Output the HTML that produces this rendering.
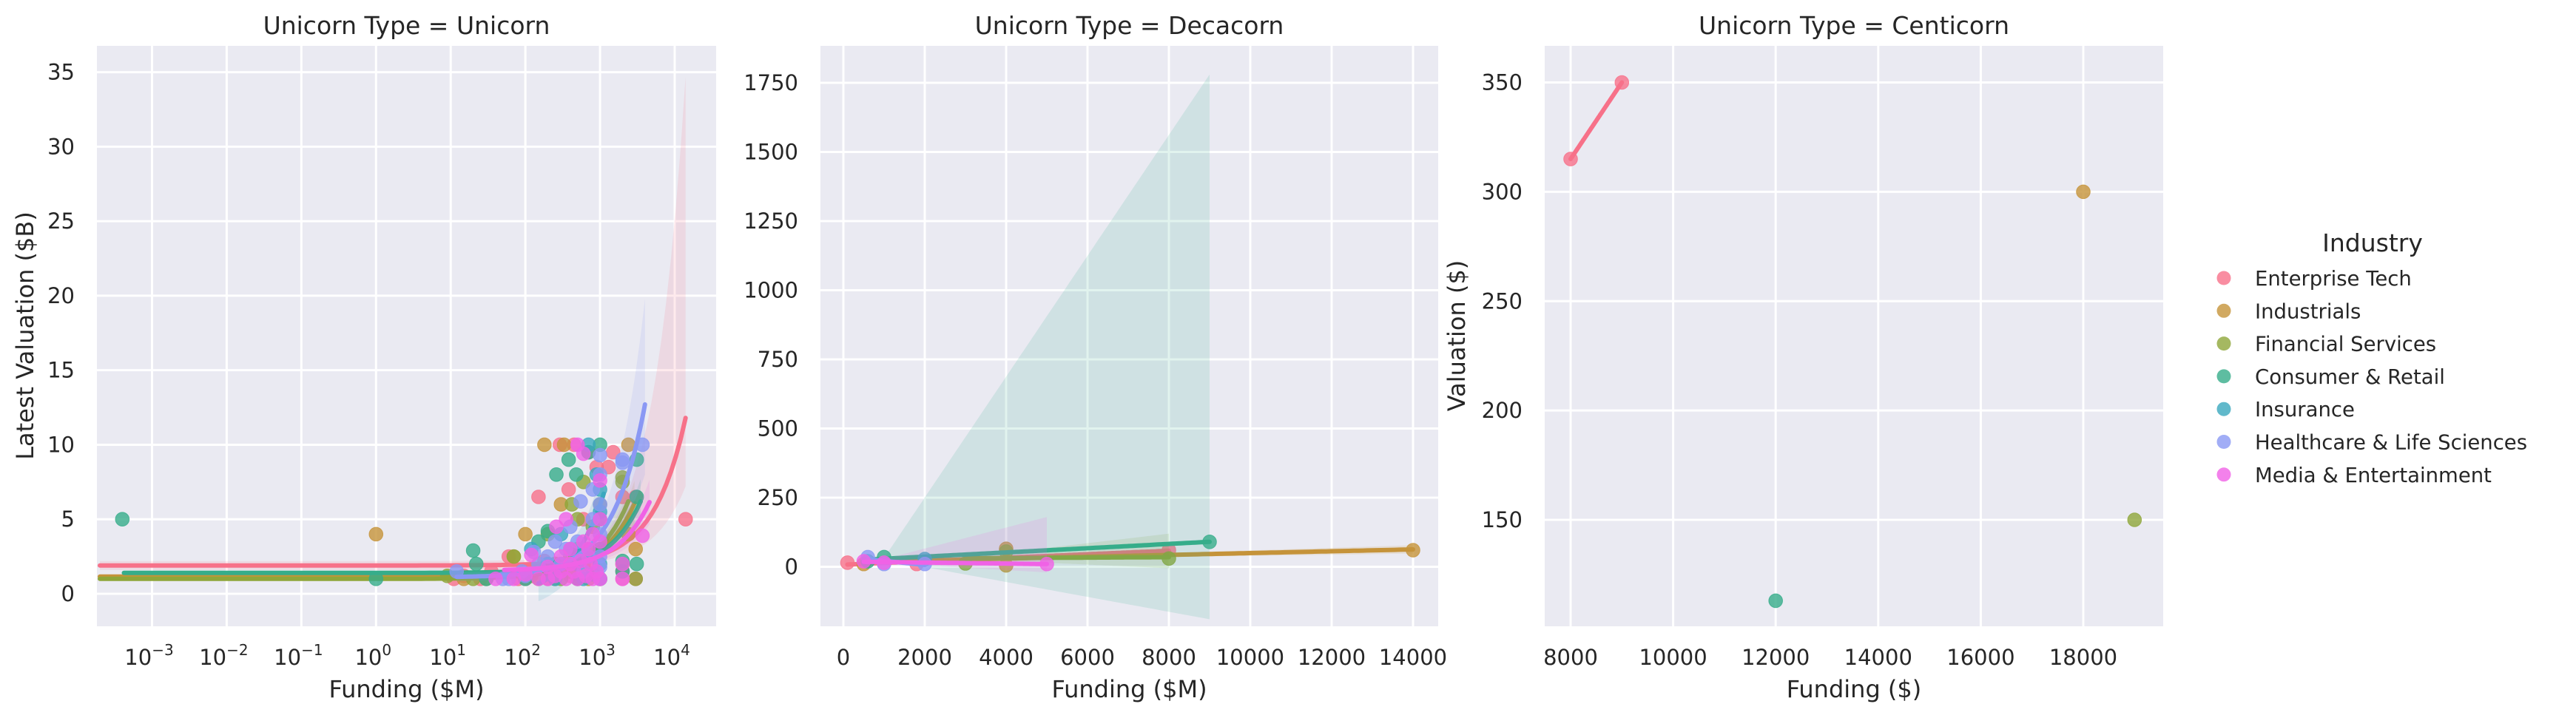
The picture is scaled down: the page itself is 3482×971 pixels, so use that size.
<!DOCTYPE html>
<html><head><meta charset="utf-8"><style>
html,body{margin:0;padding:0;background:#fff;}
svg{display:block;font-family:"DejaVu Sans","Liberation Sans",sans-serif;}
</style></head><body>
<svg id="chart" width="3482" height="971" viewBox="0 0 3482 971" xmlns="http://www.w3.org/2000/svg"></svg>
<script>
const industries = ["Enterprise Tech","Industrials","Financial Services","Consumer & Retail","Insurance","Healthcare & Life Sciences","Media & Entertainment"];
const colors = ["#f77189","#c5933a","#8fa63a","#36ad8a","#3aa8be","#8a98f4","#f062e6"];

// Panel 1 (Unicorn) points [funding $M, valuation $B]
const uniEnt = [[11,1],[15,1.2],[25,1],[35,1.5],[60,2.5],[80,1],[100,1],[150,6.5],[200,1],[290,10],[300,1.5],[380,7],[450,10],[500,1],[700,9.5],[900,8.5],[1000,1],[1000,3],[1500,9.5],[1300,8.5],[2000,1.5],[2000,6.5],[2000,1],[3000,6.5],[3000,1],[14000,5],[600,5],[800,2],[120,1.5],[250,2],[400,1.2],[650,1.5],[180,2.2]];
const uniInd = [[1,4],[15,1],[30,1],[100,4],[180,10],[330,10],[2400,10],[70,2.5],[300,6],[500,3],[700,1],[1000,1],[250,1],[400,1.5],[2000,2],[2400,4],[3000,3],[120,1.2],[200,1.5],[600,2]];
const uniFin = [[9,1.2],[20,1],[70,2.5],[200,4],[420,6],[600,7.5],[2000,7.8],[2000,7.5],[500,5],[800,4.5],[1000,6],[300,1],[150,1],[1000,1],[3000,1],[250,2],[400,2.5],[700,3]];
const uniCons = [[0.0004,5],[1,1],[20,2.9],[22,2],[30,1],[150,3.5],[200,4.2],[380,9],[260,8],[480,8],[700,9.5],[1000,10],[3100,9],[3100,6.5],[3100,2],[2000,2.2],[2000,1.5],[1000,5],[1000,3],[500,1],[300,2],[1000,1],[100,1],[220,1.5],[600,2.5],[800,1.3]];
const uniIns = [[120,3],[300,4],[400,3],[700,10],[1000,7],[1000,5.5],[1000,2],[600,1],[250,1],[900,8],[500,2],[200,2]];
const uniHc = [[12,1.5],[50,1],[130,2.8],[250,3.5],[400,4.5],[550,6.2],[1000,9.3],[2000,8.8],[3700,10],[1000,1.8],[1000,1],[1000,4],[1000,8],[700,2.5],[800,7],[300,2],[2000,9],[100,1.2],[150,2],[200,2.5],[350,3],[500,3.5],[600,1.5],[1000,2.5],[1000,6],[800,5],[60,1],[90,1.5]];
const uniMedia = [[40,1],[70,1],[120,2.6],[200,1],[260,4.5],[350,5],[500,10],[600,9.4],[1000,7.6],[1000,5],[3700,3.9],[2000,1],[2000,2],[700,3],[500,1],[300,1.5],[400,2],[800,1],[1000,1],[150,1],[100,1.3],[200,1.8],[250,1.2],[350,1],[450,1.5],[550,2.2],[650,1.2],[750,2],[900,1.5],[1000,3.5],[400,3],[600,3.5],[800,4],[300,2.5]];
// Panel 1 regression lines (valuation = a + b*funding)
const uniLineA = [1.9,1.15,1.0,1.4,-0.23,1.1,1.55];
const uniLineB = [0.000707,0.0017,0.00217,0.00137,0.0062,0.0029,0.001];
const uniLineMin = [0.0002,0.0002,0.0002,0.00042,150,12,52];
const uniLineMax = [14000,2900,2400,3500,1120,4000,4600];
const uniCiUp = [22.9,1.5,1.5,1.5,2,7.1,1.5];
const uniCiDown = [4.6,1.5,1.5,1.5,2,4.7,1.5];
const uniCiMin = [0.3,0.15,0.15,0.15,1.2,0.3,0.2];
const uniCiPinch = [600,600,600,600,600,600,600];

// Panel 2 (Decacorn) points [funding $M, valuation]
const decEnt = [[100,15],[1800,10],[8000,60]];
const decInd = [[500,10],[4000,5],[4000,65],[14000,60]];
const decFin = [[3000,12],[8000,30],[4000,55]];
const decCons = [[600,20],[1000,35],[9000,90]];
const decIns = [[2000,28]];
const decHc = [[600,35],[2000,10],[1000,10]];
const decMedia = [[500,20],[1000,15],[5000,10]];
const decCiUp = [0,15,85,1690,0,0,170];
const decCiDown = [0,15,40,280,0,0,30];
const decCiPinch = [1000,5000,3000,1000,1000,1000,800];

// Panel 3 (Centicorn) points [funding $, valuation $]
const cenEnt = [[8000,315],[9000,350]];
const cenInd = [[18000,300]];
const cenFin = [[19000,150]];
const cenCons = [[12000,113]];
const cenIns = [];
const cenHc = [];
const cenMedia = [];

const xTicks1 = [-3,-2,-1,0,1,2,3,4];
const yTicks1 = [0,5,10,15,20,25,30,35];
const xTicks2 = [0,2000,4000,6000,8000,10000,12000,14000];
const yTicks2 = [0,250,500,750,1000,1250,1500,1750];
const xTicks3 = [8000,10000,12000,14000,16000,18000];
const yTicks3 = [150,200,250,300,350];

const svg = document.getElementById('chart');
const NS = "http://www.w3.org/2000/svg";
function mk(tag, attrs, parent){const e=document.createElementNS(NS,tag);for(const k in attrs)e.setAttribute(k,attrs[k]);(parent||svg).appendChild(e);return e;}
function lin(d0,d1,r0,r1){return v=>r0+(v-d0)*(r1-r0)/(d1-d0);}

const TOP=62,BOT=847;
const TICK_FS=29, LABEL_FS=32, TITLE_FS=33;
const P1={l:131,r:968,title:"Unicorn Type = Unicorn",name:"unicorn"};
const P2={l:1109,r:1944,title:"Unicorn Type = Decacorn",name:"decacorn"};
const P3={l:2088,r:2924,title:"Unicorn Type = Centicorn",name:"centicorn"};
const x1l = lin(-3,4,205.5,912); const x1 = f=>x1l(Math.log10(f));
const y1 = lin(0,35,803,97.6);
const x2 = lin(0,14000,1140,1910);
const y2 = lin(0,1750,766.5,112);
const x3 = lin(8000,18000,2123,2816);
const y3 = lin(150,350,703,111.5);

function panelBg(P){
  const g=mk('g',{});
  
  
  const r=mk('rect',{x:P.l,y:TOP,width:P.r-P.l,height:BOT-TOP,fill:'#eaeaf2'},g);
  
  
  const t=mk('text',{x:(P.l+P.r)/2,y:46,'text-anchor':'middle','font-size':TITLE_FS,fill:'#262626'},g);
  t.textContent=P.title;
  
  
  P.g=g;
  const clip=mk('clipPath',{id:'clip-'+P.name});
  mk('rect',{x:P.l,y:TOP,width:P.r-P.l,height:BOT-TOP},clip);
  return g;
}
function grid(P,xt,xs,yt,ys,xlabel){
  const g=P.g;
  xt.forEach(v=>{const x=xs(v);
    const l=mk('line',{x1:x,x2:x,y1:TOP,y2:BOT,stroke:'#fff','stroke-width':3},g);
    
    
    const t=mk('text',{x:x,y:899,'text-anchor':'middle','font-size':TICK_FS,fill:'#262626'},g);
    
    
    if(xlabel==='log'){t.textContent='10';const s=mk('tspan',{dy:-13,'font-size':20},t);s.textContent=(v<0?'\u2212'+(-v):''+v);t.setAttribute('x',x-4);}
    else t.textContent=v;
  });
  yt.forEach(v=>{const y=ys(v);
    const l=mk('line',{x1:P.l,x2:P.r,y1:y,y2:y,stroke:'#fff','stroke-width':3},g);
    
    
    const t=mk('text',{x:P.l-30,y:y+10,'text-anchor':'end','font-size':TICK_FS,fill:'#262626'},g);
    t.textContent=v;
    
    
  });
}
function label(text,x,y,rot,name){
  const t=mk('text',{x:x,y:y,'text-anchor':'middle','font-size':LABEL_FS,fill:'#262626'});
  if(rot)t.setAttribute('transform','rotate(-90 '+x+' '+y+')');
  t.textContent=text;
  
  
}
function band(P,xs,ys,a,b,fmin,fmax,up,down,mn,pinch,color,log){
  const n=120,top=[],bot=[];
  for(let i=0;i<=n;i++){
    const f = log ? Math.pow(10,Math.log10(fmin)+(Math.log10(fmax)-Math.log10(fmin))*i/n) : fmin+(fmax-fmin)*i/n;
    const yv=a+b*f;
    let fr = f>pinch ? (f-pinch)/(fmax-pinch) : 0;
    const hu=mn+(up-mn)*fr, hd=mn+(down-mn)*fr;
    top.push(xs(f).toFixed(1)+','+ys(yv+hu).toFixed(1));
    bot.unshift(xs(f).toFixed(1)+','+ys(yv-hd).toFixed(1));
  }
  const p=mk('polygon',{points:top.concat(bot).join(' '),fill:color,'fill-opacity':0.15,'clip-path':'url(#clip-'+P.name+')'},P.g);
  
  
}
function fitLine(P,xs,ys,a,b,fmin,fmax,color,log){
  const n=120,pts=[];
  for(let i=0;i<=n;i++){
    const f = log ? Math.pow(10,Math.log10(fmin)+(Math.log10(fmax)-Math.log10(fmin))*i/n) : fmin+(fmax-fmin)*i/n;
    pts.push(xs(f).toFixed(1)+','+ys(a+b*f).toFixed(1));
  }
  const l=mk('polyline',{points:pts.join(' '),fill:'none',stroke:color,'stroke-width':6,'stroke-linecap':'round','clip-path':'url(#clip-'+P.name+')'},P.g);
  
  
}
function scatter(P,pts,xs,ys,color){
  pts.forEach(p=>{
    const c=mk('circle',{cx:xs(p[0]),cy:ys(p[1]),r:9.3,fill:color,'fill-opacity':0.8,stroke:color,'stroke-opacity':0.8,'stroke-width':1,'clip-path':'url(#clip-'+P.name+')'},P.g);
    
    
  });
}
function ols(pts){
  const n=pts.length;if(n<2)return null;
  let sx=0,sy=0;pts.forEach(p=>{sx+=p[0];sy+=p[1];});
  const mx=sx/n,my=sy/n;let sxx=0,sxy=0;
  pts.forEach(p=>{sxx+=(p[0]-mx)**2;sxy+=(p[0]-mx)*(p[1]-my);});
  const b=sxx?sxy/sxx:0;
  return {a:my-b*mx,b:b,min:Math.min(...pts.map(p=>p[0])),max:Math.max(...pts.map(p=>p[0]))};
}

// Panel 1
panelBg(P1); grid(P1,xTicks1,x1l,yTicks1,y1,'log');
const uniSets=[uniEnt,uniInd,uniFin,uniCons,uniIns,uniHc,uniMedia];
uniSets.forEach((pts,i)=>{
  scatter(P1,pts,x1,y1,colors[i]);
  band(P1,x1,y1,uniLineA[i],uniLineB[i],uniLineMin[i],uniLineMax[i],uniCiUp[i],uniCiDown[i],uniCiMin[i],uniCiPinch[i],colors[i],true);
  fitLine(P1,x1,y1,uniLineA[i],uniLineB[i],uniLineMin[i],uniLineMax[i],colors[i],true);
});
// Panel 2
panelBg(P2); grid(P2,xTicks2,x2,yTicks2,y2,'lin');
const decSets=[decEnt,decInd,decFin,decCons,decIns,decHc,decMedia];
decSets.forEach((pts,i)=>{
  scatter(P2,pts,x2,y2,colors[i]);
  const f=ols(pts);
  if(f){
    if(decCiUp[i]>0) band(P2,x2,y2,f.a,f.b,f.min,f.max,decCiUp[i],decCiDown[i],3,decCiPinch[i],colors[i],false);
    fitLine(P2,x2,y2,f.a,f.b,f.min,f.max,colors[i],false);
  }
});
// Panel 3
panelBg(P3); grid(P3,xTicks3,x3,yTicks3,y3,'lin');
const cenSets=[cenEnt,cenInd,cenFin,cenCons,cenIns,cenHc,cenMedia];
cenSets.forEach((pts,i)=>{
  scatter(P3,pts,x3,y3,colors[i]);
  const f=ols(pts);
  if(f) fitLine(P3,x3,y3,f.a,f.b,f.min,f.max,colors[i],false);
});

label("Funding ($M)",(P1.l+P1.r)/2,943,false,'x-axis-title-unicorn');
label("Funding ($M)",(P2.l+P2.r)/2,943,false,'x-axis-title-decacorn');
label("Funding ($)",(P3.l+P3.r)/2,943,false,'x-axis-title-centicorn');
label("Latest Valuation ($B)",45,454,true,'y-axis-title-unicorn');
label("Valuation ($)",1980,454,true,'y-axis-title-centicorn');

// Legend
const lg=mk('g',{});


const lt=mk('text',{x:3207,y:340,'text-anchor':'middle','font-size':33,fill:'#262626'},lg);
lt.textContent="Industry";


industries.forEach((name,i)=>{
  const y=376+i*44.3;
  const e=mk('g',{},lg);
  
  
  mk('circle',{cx:3006,cy:y,r:9.5,fill:colors[i],'fill-opacity':0.8},e);
  const t=mk('text',{x:3048,y:y+10,'font-size':27.5,fill:'#262626'},e);
  t.textContent=name;
});
</script>
</body></html>
